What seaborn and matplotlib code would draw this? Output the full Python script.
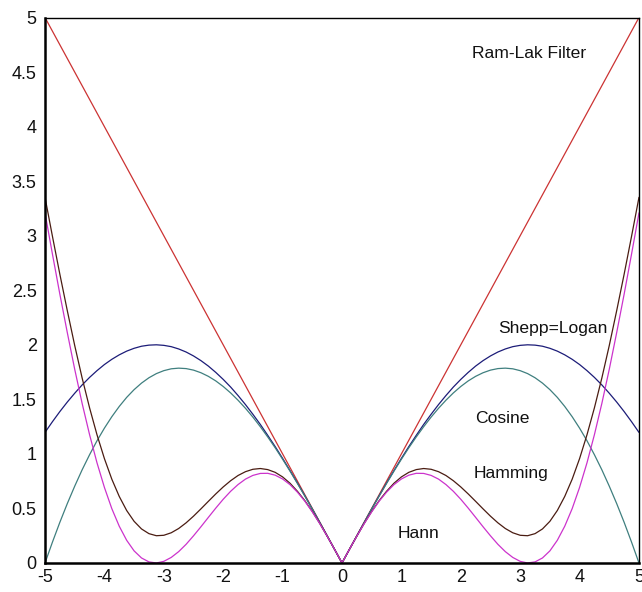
import matplotlib
matplotlib.use("Agg")
import matplotlib.pyplot as plt
import seaborn as sns
import pandas as pd

# frequency axis (negative half is the mirror of the positive half)
w_half = [0.0, 0.125, 0.25, 0.375, 0.5, 0.625, 0.75, 0.875, 1.0, 1.125, 1.25,
          1.375, 1.5, 1.625, 1.75, 1.875, 2.0, 2.125, 2.25, 2.375, 2.5,
          2.625, 2.75, 2.875, 3.0, 3.125, 3.25, 3.375, 3.5, 3.625, 3.75,
          3.875, 4.0, 4.125, 4.25, 4.375, 4.5, 4.625, 4.75, 4.875, 5.0]

ramlak_half = [0.0, 0.125, 0.25, 0.375, 0.5, 0.625, 0.75, 0.875, 1.0, 1.125, 1.25,
               1.375, 1.5, 1.625, 1.75, 1.875, 2.0, 2.125, 2.25, 2.375, 2.5,
               2.625, 2.75, 2.875, 3.0, 3.125, 3.25, 3.375, 3.5, 3.625, 3.75,
               3.875, 4.0, 4.125, 4.25, 4.375, 4.5, 4.625, 4.75, 4.875, 5.0]
shepp_half = [0.0, 0.125, 0.249, 0.373, 0.495, 0.615, 0.733, 0.847, 0.959, 1.067, 1.170,
              1.270, 1.363, 1.452, 1.535, 1.613, 1.683, 1.747, 1.805, 1.855, 1.898,
              1.934, 1.962, 1.983, 1.995, 2.000, 1.997, 1.987, 1.968, 1.942, 1.908,
              1.867, 1.819, 1.763, 1.701, 1.632, 1.556, 1.475, 1.388, 1.295, 1.197]
cosine_half = [0.0, 0.125, 0.249, 0.372, 0.494, 0.613, 0.729, 0.842, 0.951, 1.056, 1.155,
               1.249, 1.337, 1.418, 1.492, 1.559, 1.618, 1.669, 1.711, 1.744, 1.768,
               1.782, 1.786, 1.780, 1.763, 1.736, 1.698, 1.649, 1.589, 1.518, 1.435,
               1.341, 1.236, 1.120, 0.992, 0.854, 0.704, 0.544, 0.373, 0.191, 0.0]
hamming_half = [0.0, 0.125, 0.246, 0.363, 0.472, 0.571, 0.657, 0.731, 0.789, 0.831, 0.856,
                0.866, 0.859, 0.837, 0.802, 0.754, 0.697, 0.633, 0.565, 0.496, 0.429,
                0.368, 0.316, 0.277, 0.254, 0.250, 0.269, 0.312, 0.382, 0.481, 0.610,
                0.768, 0.957, 1.176, 1.423, 1.696, 1.994, 2.314, 2.647, 2.995, 3.352]
hann_half = [0.0, 0.125, 0.246, 0.362, 0.469, 0.566, 0.649, 0.718, 0.770, 0.805, 0.822,
             0.821, 0.803, 0.769, 0.719, 0.657, 0.584, 0.503, 0.418, 0.332, 0.249,
             0.171, 0.104, 0.051, 0.015, 0.000, 0.010, 0.046, 0.111, 0.208, 0.337,
             0.498, 0.693, 0.919, 1.177, 1.463, 1.776, 2.113, 2.464, 2.832, 3.209]

x = [-v for v in w_half[:0:-1]] + w_half
ramlak = ramlak_half[:0:-1] + ramlak_half
shepp = shepp_half[:0:-1] + shepp_half
cosine = cosine_half[:0:-1] + cosine_half
hamming = hamming_half[:0:-1] + hamming_half
hann = hann_half[:0:-1] + hann_half

series = {
    "Ram-Lak": (ramlak, "#cc3333"),
    "Shepp-Logan": (shepp, "#1c1c78"),
    "Cosine": (cosine, "#3f7f7f"),
    "Hamming": (hamming, "#4a1c12"),
    "Hann": (hann, "#cc33cc"),
}

labels = ["Ram-Lak Filter", "Shepp=Logan", "Cosine", "Hamming", "Hann"]
label_x = [2.19, 2.63, 2.24, 2.21, 0.93]
label_y = [4.63, 2.11, 1.28, 0.78, 0.23]

xticks = [-5, -4, -3, -2, -1, 0, 1, 2, 3, 4, 5]
yticks = [0, 0.5, 1, 1.5, 2, 2.5, 3, 3.5, 4, 4.5, 5]
ytick_labels = ["0", "0.5", "1", "1.5", "2", "2.5", "3", "3.5", "4", "4.5", "5"]

sns.set_style("white")
plt.rcParams["font.family"] = ["Liberation Sans", "DejaVu Sans"]

fig = plt.figure(figsize=(6.42, 5.92), dpi=100)
ax = fig.add_axes([0.0701, 0.049, 0.9953 - 0.0701, 0.9704 - 0.049])

for name, (vals, col) in series.items():
    df = pd.DataFrame({"w": x, "v": vals})
    sns.lineplot(data=df, x="w", y="v", color=col, linewidth=0.9, ax=ax,
                 estimator=None, sort=False)

for t, tx, ty in zip(labels, label_x, label_y):
    ax.text(tx, ty, t, fontsize=12.6, color="#111111", ha="left", va="baseline")

ax.set_xlim(-5, 5)
ax.set_ylim(0, 5)
ax.set_xticks(xticks)
ax.set_xticklabels([str(v) for v in xticks])
ax.set_yticks(yticks)
ax.set_yticklabels(ytick_labels)
ax.set_xlabel("")
ax.set_ylabel("")
ax.tick_params(axis="both", direction="in", length=5, width=1, labelsize=13,
               colors="#111111", top=False, right=False)
ax.tick_params(axis="x", pad=4)
ax.tick_params(axis="y", pad=6)
for side in ["left", "bottom"]:
    ax.spines[side].set_linewidth(1.8)
    ax.spines[side].set_color("black")
for side in ["top", "right"]:
    ax.spines[side].set_linewidth(1.0)
    ax.spines[side].set_color("black")
    ax.spines[side].set_visible(True)

fig.savefig("out.png", dpi=100, facecolor="white")
